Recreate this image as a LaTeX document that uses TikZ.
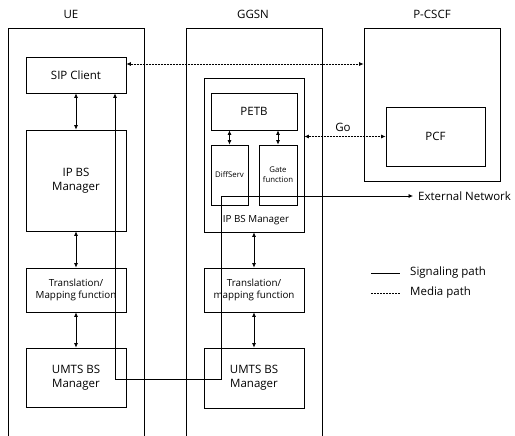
\documentclass[tikz,border=0pt]{standalone}
\usepackage{fontspec}
\setmainfont{Open Sans}
\usetikzlibrary{arrows.meta}

\newcommand{\bigtxt}{\fontsize{11.5}{14}\selectfont}
\newcommand{\midtxt}{\fontsize{9.8}{12}\selectfont}
\newcommand{\smalltxt}{\fontsize{7.8}{10}\selectfont}

\tikzset{
  box/.style={draw=black, line width=0.7pt, inner sep=0pt, align=center, font=\bigtxt},
  lbl/.style={inner sep=0pt, font=\bigtxt},
  sig/.style={draw=black, line width=0.7pt},
  media/.style={draw=black, line width=0.7pt, dash pattern=on 2pt off 1pt},
  tip/.style={-{Latex[length=4.5pt,width=4pt]}},
  tips/.style={{Latex[length=4.5pt,width=4pt]}-{Latex[length=4.5pt,width=4pt]}}
}

\begin{document}
\begin{tikzpicture}[x=1pt, y=-1pt]
\useasboundingbox (0,0) rectangle (515,436);

% column titles
\node[lbl] (ueT) at (71,14) {UE};
\node[lbl] (ggsnT) at (253,14) {GGSN};
\node[lbl] (pcscfT) at (432,14) {P-CSCF};

% outer frames of UE and GGSN run past the lower edge
\draw[sig] (8,436) -- (8,28) -- (144,28) -- (144,436);
\draw[sig] (186,436) -- (186,28) -- (322,28) -- (322,436);

% P-CSCF
\node[box, minimum width=136pt, minimum height=153pt] (pcscf) at (432,104.5) {};
\node[box, minimum width=99pt, minimum height=59pt] (pcf) at (435.5,136.5) {PCF};

% UE stack
\node[box, minimum width=100pt, minimum height=36pt] (sip) at (76,75) {SIP Client};
\node[box, minimum width=100pt, minimum height=101pt] (ipbs1) at (76,180.5) {IP BS\\Manager};
\node[box, minimum width=100pt, minimum height=44pt, font=\midtxt] (tr1) at (76,290) {Translation/\\Mapping function};
\node[box, minimum width=100pt, minimum height=59pt] (umts1) at (76,377.5) {UMTS BS\\Manager};

% GGSN stack
\node[box, minimum width=100pt, minimum height=154pt] (ipbs2) at (254,155) {};
\node[lbl, font=\midtxt] (ipbs2T) at (256,220) {IP BS Manager};
\node[box, minimum width=86pt, minimum height=37pt] (petb) at (254,111.5) {PETB};
\node[box, minimum width=37pt, minimum height=60pt, font=\smalltxt] (diff) at (229.5,175) {DiffServ};
\node[box, minimum width=38pt, minimum height=60pt, font=\smalltxt] (gate) at (278,175) {Gate\\function};
\node[box, minimum width=100pt, minimum height=44pt, font=\midtxt] (tr2) at (254,290) {Translation/\\mapping function};
\node[box, minimum width=100pt, minimum height=60pt] (umts2) at (254,378) {UMTS BS\\Manager};

% vertical exchanges inside each stack
\draw[sig, tips] (sip) -- (ipbs1);
\draw[sig, tips] (ipbs1) -- (tr1);
\draw[sig, tips] (tr1) -- (umts1);
\draw[sig, tips] (ipbs2) -- (tr2);
\draw[sig, tips] (tr2) -- (umts2);
\draw[sig, tips] (petb.south -| diff.north) -- (diff.north);
\draw[sig, tips] (petb.south -| gate.north) -- (gate.north);

% media between SIP client and P-CSCF, and Go interface
\coordinate (mrow) at (0,64);
\draw[media, tips] (sip.east |- mrow) -- (pcscf.west |- mrow);
\draw[media, tips] (ipbs2.east |- pcf.west) -- (pcf.west);
\node[lbl] (go) at (343,127) {Go};

% signaling path from the SIP client through both UMTS managers to the outside
\node[lbl, anchor=west] (ext) at (418,196) {External Network};
\coordinate (s1) at (115,379);
\coordinate (s2) at (221,379);
\coordinate (s3) at (221,196);
\draw[sig, tips] (sip.south -| s1) -- (s1) -- (s2) -- (s3) -- ([xshift=-5pt]ext.west);

% legend
\coordinate (l1a) at (371,273);
\coordinate (l1b) at (400,273);
\coordinate (l2a) at (371,293);
\coordinate (l2b) at (400,293);
\draw[sig] (l1a) -- (l1b);
\draw[media] (l2a) -- (l2b);
\node[lbl, anchor=west] (legSig) at (410,273) {Signaling path};
\node[lbl, anchor=west] (legMed) at (410,293) {Media path};
\end{tikzpicture}
\end{document}
